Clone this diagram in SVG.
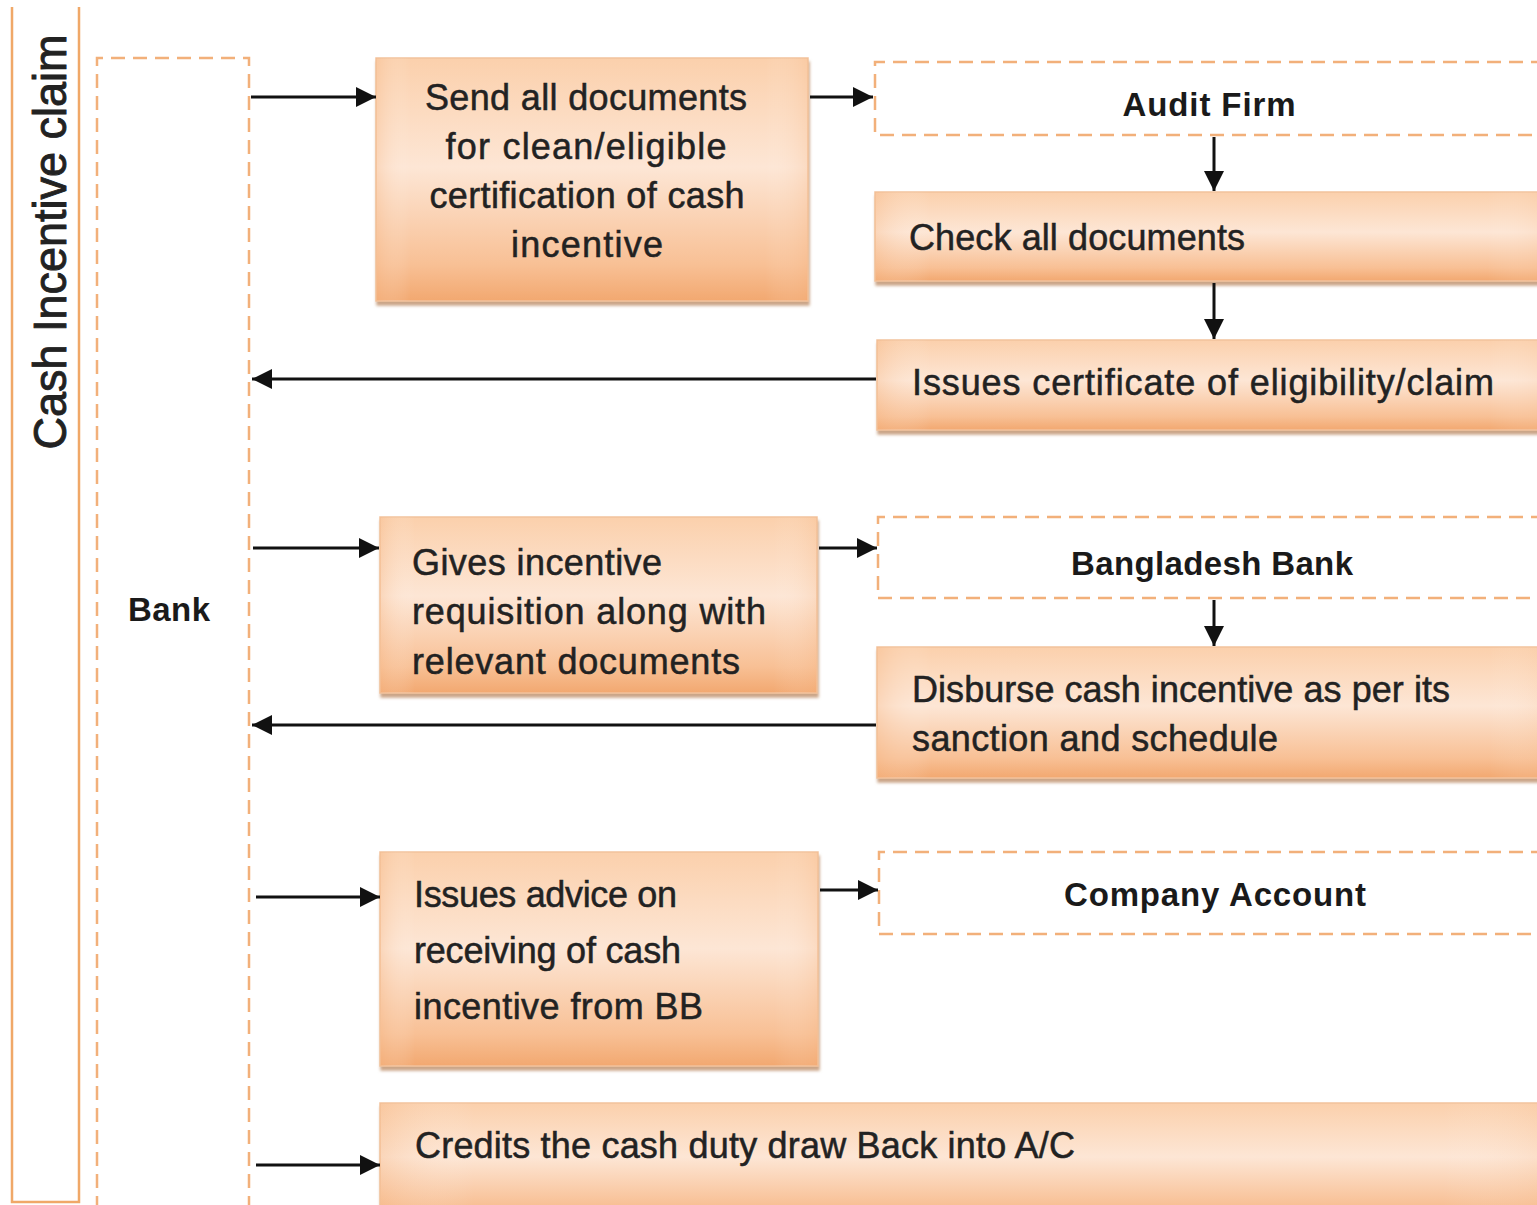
<svg xmlns="http://www.w3.org/2000/svg" width="1537" height="1205" viewBox="0 0 1537 1205">
<defs>
<linearGradient id="boxGrad" x1="0" y1="0" x2="0" y2="1">
<stop offset="0" stop-color="#fbd0ac"/>
<stop offset="0.45" stop-color="#fde6d5"/>
<stop offset="0.85" stop-color="#f8c095"/>
<stop offset="1" stop-color="#f2a870"/>
</linearGradient>
<linearGradient id="boxSheen" x1="0" y1="0" x2="1" y2="0">
<stop offset="0" stop-color="#f6b887" stop-opacity="0.35"/>
<stop offset="0.08" stop-color="#ffffff" stop-opacity="0"/>
<stop offset="0.9" stop-color="#ffffff" stop-opacity="0"/>
<stop offset="1" stop-color="#f6b887" stop-opacity="0.25"/>
</linearGradient>
<filter id="shadow" x="-5%" y="-5%" width="110%" height="115%">
<feDropShadow dx="1" dy="4" stdDeviation="1.5" flood-color="#b9865e" flood-opacity="0.75"/>
</filter>
<marker id="arrow" viewBox="0 0 10 10" refX="10" refY="5" markerUnits="userSpaceOnUse" markerWidth="24" markerHeight="20" orient="auto">
<path d="M0,0 L10,5 L0,10 z" fill="#111"/>
</marker>
</defs>
<style>
.lane{fill:none;stroke:#f0a868;stroke-width:2.5}
.dash{fill:none;stroke:#f2b07a;stroke-width:2.5;stroke-dasharray:14 8}
.box{fill:url(#boxGrad);stroke:#f2c29c;stroke-width:1.5;filter:url(#shadow)}
.sheen{fill:url(#boxSheen);stroke:none}
.t{font-family:"Liberation Sans",Arial,sans-serif;font-size:36px;fill:#222;stroke:#222;stroke-width:0.5}
.b{font-family:"Liberation Sans",Arial,sans-serif;font-size:33px;font-weight:bold;fill:#1a1a1a}
.title{font-family:"Liberation Sans",Arial,sans-serif;font-size:46px;fill:#222;stroke:#222;stroke-width:0.9}
.c{text-anchor:middle}
.conn line{stroke:#111;stroke-width:3;marker-end:url(#arrow)}
</style>
<rect width="1537" height="1205" fill="#ffffff"/>

<g id="lane">
<path class="lane" d="M12,7 V1202 H79 V7"/>
<text class="title" transform="translate(66,242) rotate(-90)" text-anchor="middle" textLength="415" lengthAdjust="spacingAndGlyphs">Cash Incentive claim</text>
</g>

<g id="bank">
<path class="dash" d="M97,1210 V58 H249 V1210"/>
<text class="b c" x="169" y="621" textLength="82">Bank</text>
</g>

<g id="send-docs">
<rect class="box" x="376" y="58" width="432" height="243"/>
<rect class="sheen" x="376" y="58" width="432" height="243"/>
<text class="t c" x="586" y="110" textLength="322">Send all documents</text>
<text class="t c" x="586" y="159" textLength="281">for clean/eligible</text>
<text class="t c" x="587" y="208" textLength="315">certification of cash</text>
<text class="t c" x="587" y="257" textLength="152">incentive</text>
</g>

<g id="audit-firm">
<path class="dash" d="M1545,62 H875 V135 H1545"/>
<text class="b c" x="1209" y="116" textLength="173">Audit Firm</text>
</g>

<g id="check-docs">
<rect class="box" x="875" y="192" width="680" height="89"/>
<rect class="sheen" x="875" y="192" width="680" height="89"/>
<text class="t" x="909" y="250" textLength="336">Check all documents</text>
</g>

<g id="issues-cert">
<rect class="box" x="877" y="340" width="680" height="90"/>
<rect class="sheen" x="877" y="340" width="680" height="90"/>
<text class="t" x="912" y="395" textLength="582">Issues certificate of eligibility/claim</text>
</g>

<g id="gives-requisition">
<rect class="box" x="380" y="517" width="437" height="176"/>
<rect class="sheen" x="380" y="517" width="437" height="176"/>
<text class="t" x="412" y="575" textLength="250">Gives incentive</text>
<text class="t" x="412" y="624" textLength="354">requisition along with</text>
<text class="t" x="412" y="674" textLength="328">relevant documents</text>
</g>

<g id="bangladesh-bank">
<path class="dash" d="M1545,517 H878 V598 H1545"/>
<text class="b c" x="1212" y="575" textLength="282">Bangladesh Bank</text>
</g>

<g id="disburse">
<rect class="box" x="877" y="647" width="680" height="131"/>
<rect class="sheen" x="877" y="647" width="680" height="131"/>
<text class="t" x="912" y="702" textLength="538">Disburse cash incentive as per its</text>
<text class="t" x="912" y="751" textLength="366">sanction and schedule</text>
</g>

<g id="issues-advice">
<rect class="box" x="380" y="852" width="438" height="214"/>
<rect class="sheen" x="380" y="852" width="438" height="214"/>
<text class="t" x="414" y="907" textLength="263">Issues advice on</text>
<text class="t" x="414" y="963" textLength="267">receiving of cash</text>
<text class="t" x="414" y="1019" textLength="289">incentive from BB</text>
</g>

<g id="company-account">
<path class="dash" d="M1545,852 H879 V934 H1545"/>
<text class="b c" x="1215" y="906" textLength="302">Company Account</text>
</g>

<g id="credits">
<rect class="box" x="380" y="1103" width="1180" height="120"/>
<rect class="sheen" x="380" y="1103" width="1180" height="120"/>
<text class="t" x="415" y="1158" textLength="660">Credits the cash duty draw Back into A/C</text>
</g>

<g id="connectors" class="conn">
<line x1="251" y1="97" x2="376" y2="97"/>
<line x1="810" y1="97" x2="873" y2="97"/>
<line x1="1214" y1="137" x2="1214" y2="191"/>
<line x1="1214" y1="283" x2="1214" y2="339"/>
<line x1="876" y1="379" x2="252" y2="379"/>
<line x1="253" y1="548" x2="379" y2="548"/>
<line x1="819" y1="548" x2="877" y2="548"/>
<line x1="1214" y1="600" x2="1214" y2="646"/>
<line x1="876" y1="725" x2="252" y2="725"/>
<line x1="256" y1="897" x2="380" y2="897"/>
<line x1="820" y1="890" x2="878" y2="890"/>
<line x1="256" y1="1165" x2="380" y2="1165"/>
</g>
</svg>
